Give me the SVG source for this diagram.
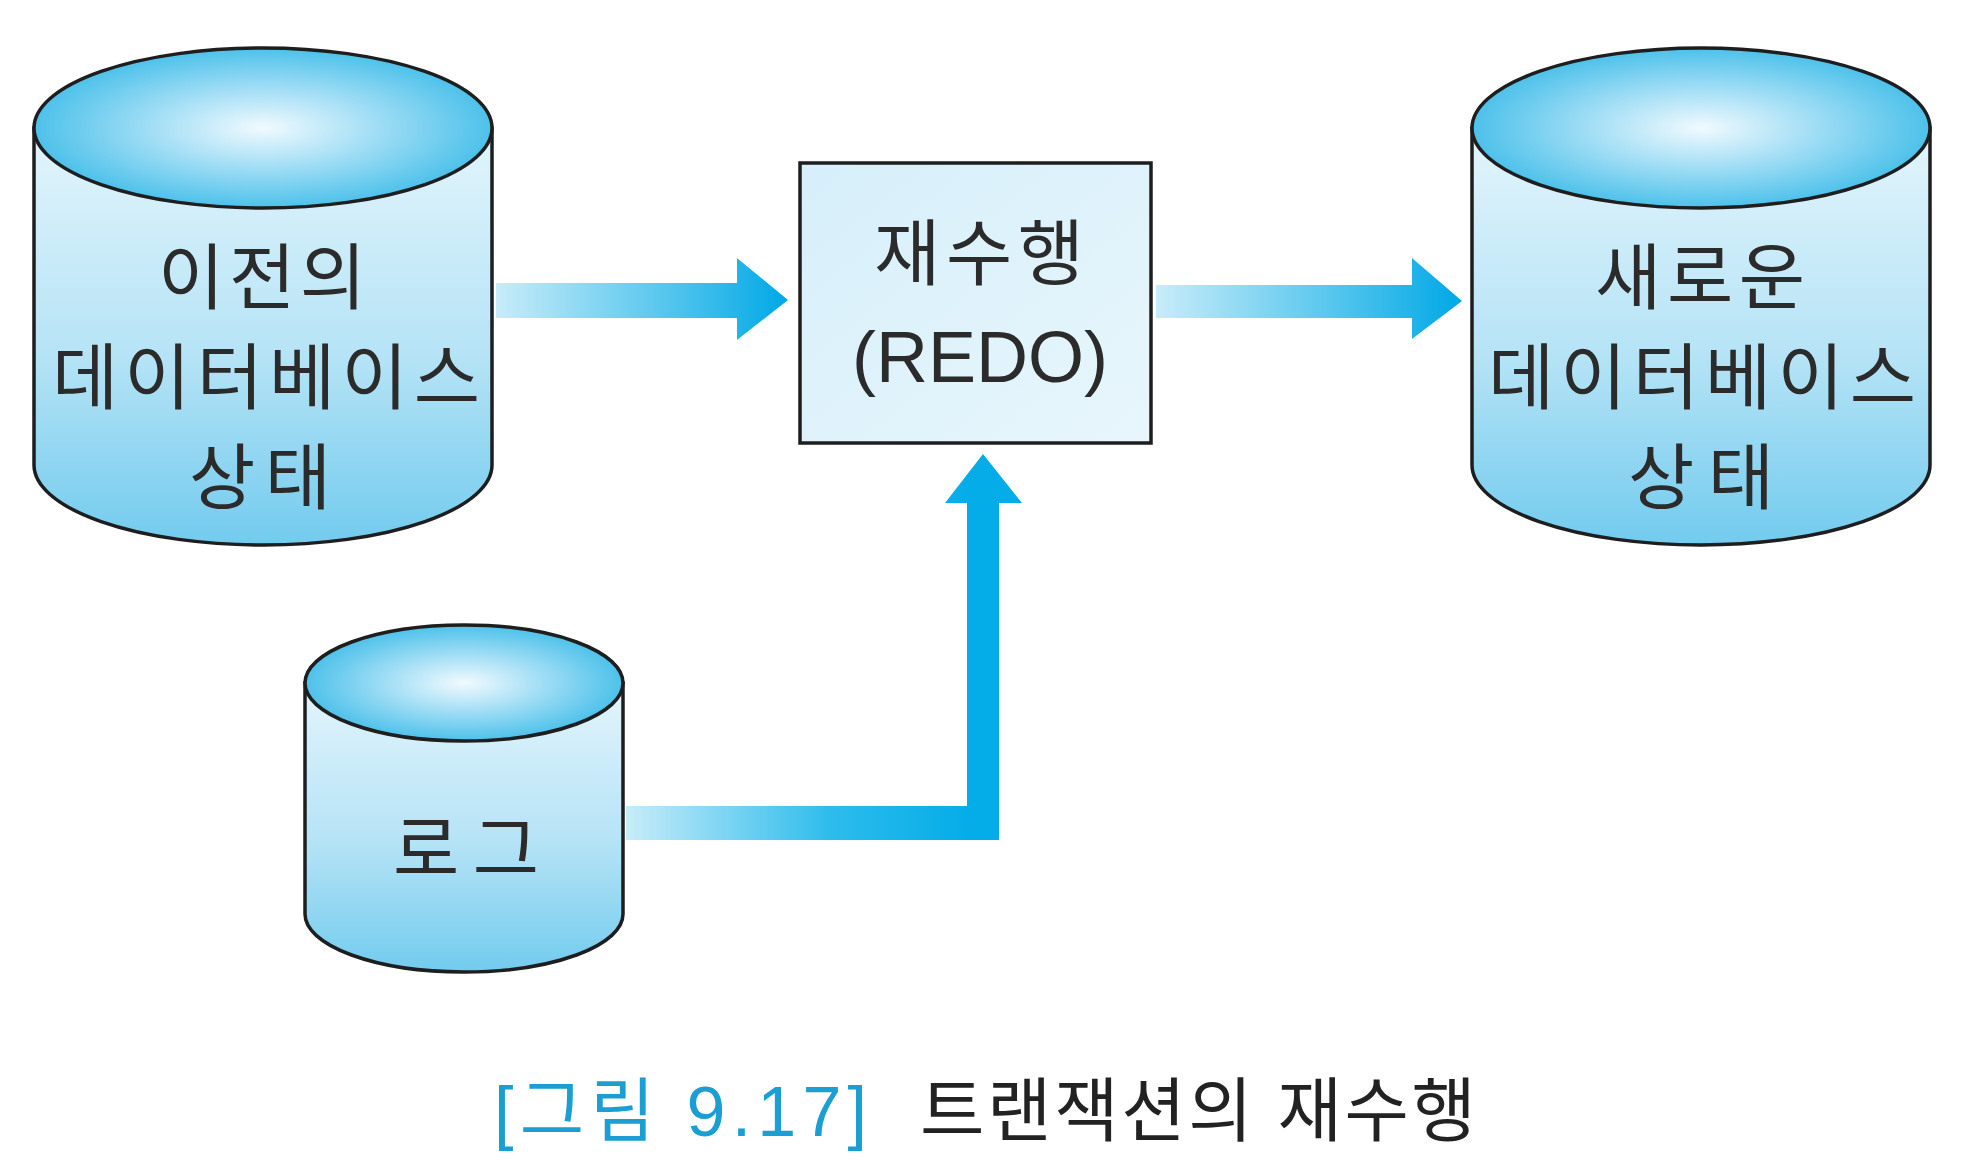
<svg xmlns="http://www.w3.org/2000/svg" width="1968" height="1168" viewBox="0 0 1968 1168">
<style>
.outline{stroke:#1e1e1e;stroke-width:3.5}
.lbl{font-family:"Liberation Sans","Noto Sans CJK KR",sans-serif;font-size:72px;fill:#2b2b2b;text-anchor:middle}
.cap{font-family:"Liberation Sans","Noto Sans CJK KR",sans-serif;font-size:70px}
</style>
<defs>
<radialGradient id="topG" cx="0.5" cy="0.5" r="0.5">
<stop offset="0" stop-color="#f1fafe"/>
<stop offset="0.45" stop-color="#a8e0f6"/>
<stop offset="1" stop-color="#4dc1ea"/>
</radialGradient>
<linearGradient id="bodyG" x1="0" y1="0" x2="0" y2="1">
<stop offset="0" stop-color="#e3f5fc"/>
<stop offset="0.55" stop-color="#b5e3f6"/>
<stop offset="1" stop-color="#72cbee"/>
</linearGradient>
<linearGradient id="boxG" x1="0" y1="0" x2="1" y2="1">
<stop offset="0" stop-color="#d6effa"/>
<stop offset="1" stop-color="#e8f6fc"/>
</linearGradient>
<linearGradient id="a1G" gradientUnits="userSpaceOnUse" x1="496" y1="0" x2="788" y2="0">
<stop offset="0" stop-color="#c8ecf9"/>
<stop offset="0.55" stop-color="#5cc8ee"/>
<stop offset="1" stop-color="#00a8e6"/>
</linearGradient>
<linearGradient id="a2G" gradientUnits="userSpaceOnUse" x1="1156" y1="0" x2="1462" y2="0">
<stop offset="0" stop-color="#c8ecf9"/>
<stop offset="0.55" stop-color="#5cc8ee"/>
<stop offset="1" stop-color="#00a8e6"/>
</linearGradient>
<linearGradient id="a3G" gradientUnits="userSpaceOnUse" x1="626" y1="0" x2="967" y2="0">
<stop offset="0" stop-color="#c8ecf9"/>
<stop offset="0.6" stop-color="#2dbcec"/>
<stop offset="1" stop-color="#05ade8"/>
</linearGradient>
</defs>
<rect width="1968" height="1168" fill="#ffffff"/>

<g id="connectors">
<polygon id="arrow-old-redo" points="496,283 737,283 737,258 788,300 737,340 737,318 496,318" fill="url(#a1G)"/>
<polygon id="arrow-redo-new" points="1156,285 1412,285 1412,258 1462,301 1412,339 1412,318 1156,318" fill="url(#a2G)"/>
<polygon id="arrow-log-redo" points="626,806 967,806 967,503 945,503 983,454 1022,503 999,503 999,840 626,840" fill="url(#a3G)"/>
</g>

<g id="node-old-db">
<path class="outline" fill="url(#bodyG)" d="M34,128 L34,465 A229,80 0 0 0 492,465 L492,128 Z"/>
<ellipse class="outline" cx="263" cy="128" rx="229" ry="80" fill="url(#topG)"/>
<text class="lbl" x="262" y="303" textLength="208" lengthAdjust="spacing">이전의</text>
<text class="lbl" x="266" y="403" textLength="428" lengthAdjust="spacing">데이터베이스</text>
<text class="lbl" x="260" y="503" textLength="142" lengthAdjust="spacing">상태</text>
</g>

<g id="node-redo">
<rect class="outline" x="800" y="163" width="351" height="280" fill="url(#boxG)"/>
<text class="lbl" x="979" y="279" textLength="210" lengthAdjust="spacing">재수행</text>
<text class="lbl" x="980" y="382" font-size="70" textLength="256" lengthAdjust="spacing">(REDO)</text>
</g>

<g id="node-new-db">
<path class="outline" fill="url(#bodyG)" d="M1472,128 L1472,465 A229,80 0 0 0 1930,465 L1930,128 Z"/>
<ellipse class="outline" cx="1701" cy="128" rx="229" ry="80" fill="url(#topG)"/>
<text class="lbl" x="1700" y="303" textLength="210" lengthAdjust="spacing">새로운</text>
<text class="lbl" x="1702" y="403" textLength="428" lengthAdjust="spacing">데이터베이스</text>
<text class="lbl" x="1701" y="503" textLength="146" lengthAdjust="spacing">상태</text>
</g>

<g id="node-log">
<path class="outline" fill="url(#bodyG)" d="M305,683 L305,914 A159,58 0 0 0 623,914 L623,683 Z"/>
<ellipse class="outline" cx="464" cy="683" rx="159" ry="58" fill="url(#topG)"/>
<text class="lbl" x="466" y="875" textLength="146" lengthAdjust="spacing">로그</text>
</g>

<g id="caption">
<text class="cap" x="494" y="1136" fill="#1b9fd2" textLength="373" lengthAdjust="spacing">[그림 9.17]</text>
<text class="cap" x="920" y="1136" fill="#222222" textLength="556" lengthAdjust="spacing">트랜잭션의 재수행</text>
</g>
</svg>
